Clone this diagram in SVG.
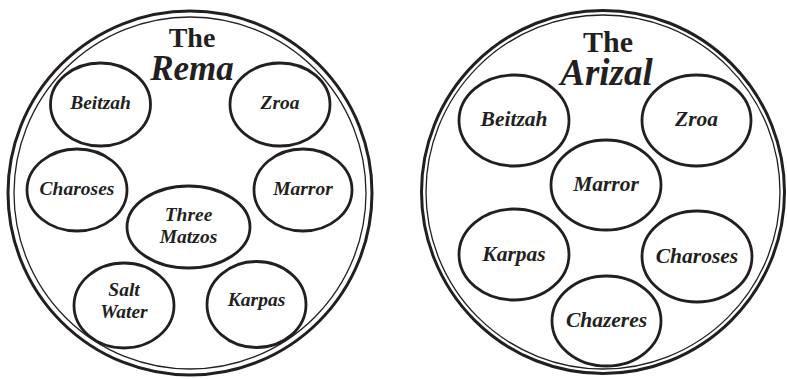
<svg xmlns="http://www.w3.org/2000/svg" width="787" height="379" viewBox="0 0 787 379">
<style>
.plate-o{fill:none;stroke:#231f20;stroke-width:3}
.plate-i{fill:none;stroke:#231f20;stroke-width:1.3}
.dish{fill:#fff;stroke:#231f20;stroke-width:2.8}
.t{font-weight:bold;fill:#231f20;text-anchor:middle}
.it{font-style:italic}
.l1{font-size:19.5px}
.l2{font-size:21.5px}
</style>
<rect width="787" height="379" fill="#fff"/>
<g font-family="Liberation Serif, Tinos, Times New Roman, serif">
<g id="plate-rema">
<circle class="plate-o" cx="190" cy="193" r="182"/>
<circle class="plate-i" cx="190" cy="193" r="176"/>
<text class="t" x="192" y="47" font-size="28">The</text>
<text class="t it" x="192" y="80" font-size="35">Rema</text>
</g>
<g id="rema-beitzah"><ellipse class="dish" cx="100.5" cy="104.5" rx="50" ry="41.5"/><text class="t it l1" x="100.5" y="109">Beitzah</text></g>
<g id="rema-zroa"><ellipse class="dish" cx="280" cy="104.5" rx="50" ry="41.5"/><text class="t it l1" x="280" y="109">Zroa</text></g>
<g id="rema-charoses"><ellipse class="dish" cx="77" cy="190" rx="50" ry="41"/><text class="t it l1" x="77" y="194.5">Charoses</text></g>
<g id="rema-marror"><ellipse class="dish" cx="303" cy="190" rx="49" ry="41"/><text class="t it l1" x="303" y="194.5">Marror</text></g>
<g id="rema-matzos"><ellipse class="dish" cx="188.5" cy="227" rx="61.5" ry="41"/><text class="t it l1" x="188.5" y="221">Three</text><text class="t it l1" x="188.5" y="243">Matzos</text></g>
<g id="rema-saltwater"><ellipse class="dish" cx="124" cy="305.5" rx="50" ry="42.5"/><text class="t it l1" x="124" y="296">Salt</text><text class="t it l1" x="124" y="318">Water</text></g>
<g id="rema-karpas"><ellipse class="dish" cx="256.5" cy="304.5" rx="49.5" ry="43"/><text class="t it l1" x="256.5" y="306">Karpas</text></g>
<g id="plate-arizal">
<circle class="plate-o" cx="603" cy="192" r="181.5"/>
<circle class="plate-i" cx="603" cy="192" r="177"/>
<text class="t" x="608" y="52" font-size="30">The</text>
<text class="t it" x="606.5" y="85" font-size="37">Arizal</text>
</g>
<g id="arizal-beitzah"><ellipse class="dish" cx="514" cy="120.5" rx="55" ry="45.5"/><text class="t it l2" x="514" y="126">Beitzah</text></g>
<g id="arizal-zroa"><ellipse class="dish" cx="696.5" cy="120.5" rx="54.5" ry="45.5"/><text class="t it l2" x="696.5" y="126">Zroa</text></g>
<g id="arizal-marror"><ellipse class="dish" cx="606" cy="185" rx="55" ry="45"/><text class="t it l2" x="606" y="191">Marror</text></g>
<g id="arizal-karpas"><ellipse class="dish" cx="514" cy="254.5" rx="55" ry="45.5"/><text class="t it l2" x="514" y="261">Karpas</text></g>
<g id="arizal-charoses"><ellipse class="dish" cx="697" cy="256.5" rx="55" ry="45.5"/><text class="t it l2" x="697" y="262.5">Charoses</text></g>
<g id="arizal-chazeres"><ellipse class="dish" cx="606.5" cy="321" rx="54.5" ry="45"/><text class="t it l2" x="606.5" y="327">Chazeres</text></g>
</g>
<g id="connectors"/>
</svg>
